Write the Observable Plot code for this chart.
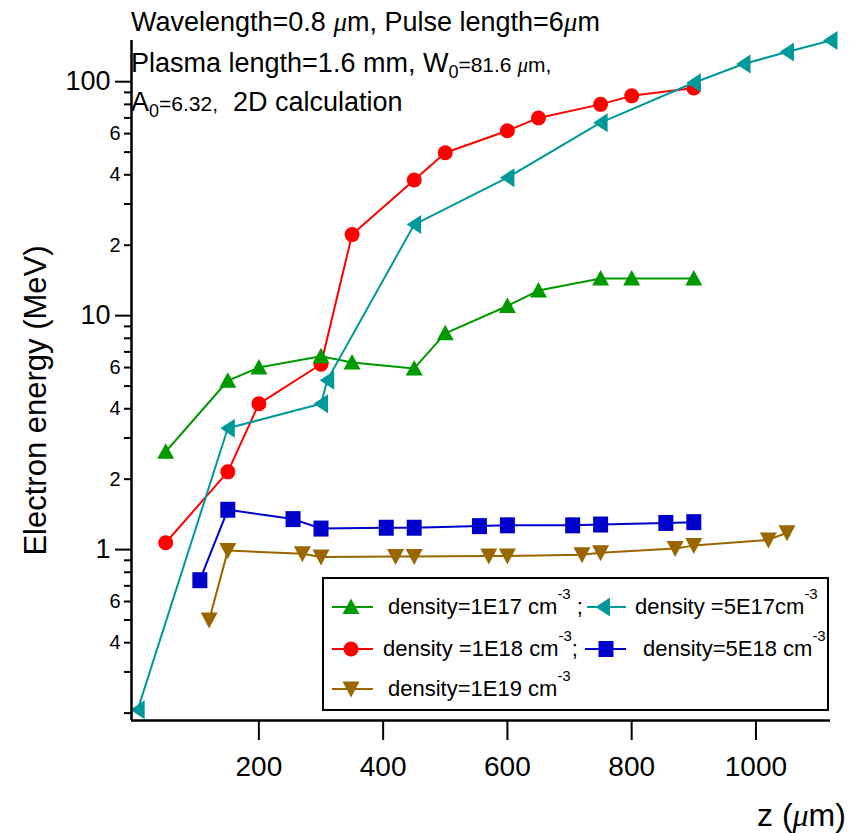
<!DOCTYPE html>
<html>
<head>
<meta charset="utf-8">
<script src="https://cdn.jsdelivr.net/npm/d3@7"></script>
<script src="https://cdn.jsdelivr.net/npm/@observablehq/plot@0.6"></script>
<style>
  body { margin: 0; background: #fff; }
  #wrap { position: relative; width: 861px; height: 833px; font-family: "Liberation Sans", Arial, sans-serif; color: #000; overflow: hidden; }
  #wrap svg.plot { position: absolute; left: 0; top: 0; }
  .ann { position: absolute; white-space: nowrap; line-height: 1; }
  .mu { font-family: "Liberation Serif", "DejaVu Serif", serif; font-style: italic; }
  .sub { font-size: 18px; position: relative; top: 6px; }
  .sup { font-size: 15px; position: relative; top: -15px; }
  .legbox { position: absolute; left: 322px; top: 577px; width: 503px; height: 130px; border: 2px solid #000; background: #fff; }
  .leg { position: absolute; white-space: nowrap; line-height: 1; font-size: 22px; }
  .samp { position: absolute; overflow: visible; }
</style>
</head>
<body>
<div id="wrap"></div>
<script>
// ---- data (z in µm, electron energy in MeV) ----
const z1E17 = [50, 150, 200, 300, 350, 450, 500, 600, 650, 750, 800, 900];
const e1E17 = [2.62, 5.27, 6.0, 6.7, 6.3, 5.95, 8.4, 11.0, 12.8, 14.4, 14.4, 14.4];

const z5E17 = [5, 150, 300, 310, 450, 600, 750, 900, 980, 1050, 1120];
const e5E17 = [0.207, 3.3, 4.2, 5.3, 24.5, 38.9, 66.8, 99, 119, 134, 150];

const z1E18 = [50, 150, 200, 300, 350, 450, 500, 600, 650, 750, 800, 900];
const e1E18 = [1.07, 2.15, 4.2, 6.2, 22.2, 38, 49.7, 61.7, 70, 80, 87, 94];

const z5E18 = [105, 150, 255, 300, 405, 450, 555, 600, 705, 750, 855, 900];
const e5E18 = [0.74, 1.48, 1.35, 1.23, 1.24, 1.24, 1.26, 1.27, 1.27, 1.28, 1.30, 1.31];

const z1E19 = [120, 150, 270, 300, 420, 450, 570, 600, 720, 750, 870, 900, 1020, 1050];
const e1E19 = [0.50, 0.99, 0.96, 0.93, 0.935, 0.935, 0.94, 0.94, 0.95, 0.97, 1.01, 1.04, 1.10, 1.18];

const xTicks = [200, 400, 600, 800, 1000];
const yMajorTicks = [1, 10, 100];
const yMinorTicks = [0.2, 0.3, 0.4, 0.5, 0.6, 0.7, 0.8, 0.9, 2, 3, 4, 5, 6, 7, 8, 9, 20, 30, 40, 50, 60, 70, 80, 90];
const yMinorLabeled = [0.4, 0.6, 2, 4, 6, 20, 40, 60];

const xDomain = [-5, 1120];
const yDomain = [0.186, 150];

// ---- marker shapes ----
const symUp = {draw(c) { c.moveTo(0, -8.5); c.lineTo(8.5, 7); c.lineTo(-8.5, 7); c.closePath(); }};
const symDown = {draw(c) { c.moveTo(-8.5, -7.5); c.lineTo(8.5, -7.5); c.lineTo(0, 8.5); c.closePath(); }};
const symLeft = {draw(c) { c.moveTo(-7.5, 0); c.lineTo(7, -9.5); c.lineTo(7, 9.5); c.closePath(); }};
const symSquare = {draw(c) { c.rect(-7.5, -8, 15, 16); }};
const symCircle = {draw(c) { c.moveTo(7.5, 0); c.arc(0, 0, 7.5, 0, 2 * Math.PI); c.closePath(); }};

const series = [
  {key: "1E19", z: z1E19, e: e1E19, color: "#996600", symbol: symDown},
  {key: "5E18", z: z5E18, e: e5E18, color: "#0000cc", symbol: symSquare},
  {key: "1E18", z: z1E18, e: e1E18, color: "#ff0000", symbol: symCircle},
  {key: "1E17", z: z1E17, e: e1E17, color: "#009900", symbol: symUp},
  {key: "5E17", z: z5E17, e: e5E17, color: "#009999", symbol: symLeft}
];

const marks = [];
for (const s of series) {
  const rows = s.z.map((z, i) => ({z, e: s.e[i]}));
  marks.push(Plot.line(rows, {x: "z", y: "e", stroke: s.color, strokeWidth: 2}));
  marks.push(Plot.dot(rows, {x: "z", y: "e", symbol: s.symbol, fill: s.color, r: 7}));
}

marks.push(
  Plot.axisX(xTicks, {anchor: "bottom", tickSize: 20, tickPadding: 16, fontSize: 28, strokeWidth: 2, label: null, tickFormat: d => String(d)}),
  Plot.axisY(yMajorTicks, {anchor: "left", tickSize: 16, tickPadding: 5, fontSize: 27, strokeWidth: 2, label: null, tickFormat: d => String(d)}),
  Plot.axisY(yMinorTicks, {anchor: "left", tickSize: 7, tickPadding: 4, fontSize: 20, strokeWidth: 2, label: null,
    tickFormat: d => yMinorLabeled.includes(d) ? String(Math.round(d / Math.pow(10, Math.floor(Math.log10(d) + 1e-9)))) : ""}),
  Plot.ruleX([xDomain[0]], {stroke: "#000", strokeWidth: 2.5}),
  Plot.ruleY([yDomain[0]], {stroke: "#000", strokeWidth: 2.5})
);

const chart = Plot.plot({
  width: 861,
  height: 833,
  marginLeft: 131,
  marginRight: 31,
  marginTop: 40,
  marginBottom: 113,
  style: {fontFamily: "'Liberation Sans', Arial, sans-serif", color: "#000", background: "transparent", overflow: "visible"},
  x: {domain: xDomain},
  y: {type: "log", domain: yDomain},
  marks
});
chart.classList.add("plot");
const wrap = document.getElementById("wrap");
wrap.appendChild(chart);

// ---- annotations (HTML text) ----
function addDiv(html, cls, style) {
  const d = document.createElement("div");
  d.className = cls;
  d.innerHTML = html;
  Object.assign(d.style, style);
  wrap.appendChild(d);
  return d;
}
const MU = '<span class="mu">&#956;</span>';
addDiv('Wavelength=0.8 ' + MU + 'm, Pulse length=6' + MU + 'm', "ann", {left: "131px", top: "9px", fontSize: "27px"});
addDiv('Plasma length=1.6 mm, W<span class="sub">0</span><span style="font-size:21px">=81.6 ' + MU + 'm,</span>', "ann", {left: "131px", top: "50px", fontSize: "27px"});
addDiv('A<span class="sub">0</span><span style="font-size:21px">=6.32,</span>&nbsp; 2D calculation', "ann", {left: "131px", top: "89px", fontSize: "27px"});

// y label (rotated)
addDiv('Electron energy (MeV)', "ann", {left: (35 - 200) + "px", top: (400 - 15.5) + "px", width: "400px", textAlign: "center", fontSize: "31px", transform: "rotate(-90deg)", transformOrigin: "50% 50%"});
// x label
addDiv('z (' + MU + 'm)', "ann", {left: "757px", top: "799px", fontSize: "32px"});

// ---- legend ----
addDiv('', "legbox", {});
function sample(color, sym, x0, x1, cx, cy) {
  const p = d3.path(); sym.draw(p);
  const w = x1 - x0;
  const svg = `<svg class="samp" width="${w}" height="24" style="left:${x0}px;top:${cy - 12}px">
    <line x1="0" x2="${w}" y1="12" y2="12" stroke="${color}" stroke-width="2"/>
    <path transform="translate(${cx - x0},12)" d="${p.toString()}" fill="${color}"/></svg>`;
  const holder = document.createElement("div");
  holder.innerHTML = svg;
  wrap.appendChild(holder.firstElementChild);
}
const SUP = '<span class="sup">-3</span>';
const rowY = [607, 649, 689];
sample("#009900", symUp, 332, 373, 351, rowY[0]);
addDiv('density=1E17 cm' + SUP + ' ;', "leg", {left: "388px", top: (rowY[0] + 8 - 18.6) + "px"});
sample("#009999", symLeft, 587, 626, 603, rowY[0]);
addDiv('density =5E17cm' + SUP, "leg", {left: "635px", top: (rowY[0] + 8 - 18.6) + "px"});
sample("#ff0000", symCircle, 332, 373, 351, rowY[1]);
addDiv('density =1E18 cm' + SUP + ';', "leg", {left: "383px", top: (rowY[1] + 8 - 18.6) + "px"});
sample("#0000cc", symSquare, 585, 626, 606, rowY[1]);
addDiv('density=5E18 cm' + SUP, "leg", {left: "643px", top: (rowY[1] + 8 - 18.6) + "px"});
sample("#996600", symDown, 332, 373, 351, rowY[2]);
addDiv('density=1E19 cm' + SUP, "leg", {left: "388px", top: (rowY[2] + 8 - 18.6) + "px"});
</script>
</body>
</html>
